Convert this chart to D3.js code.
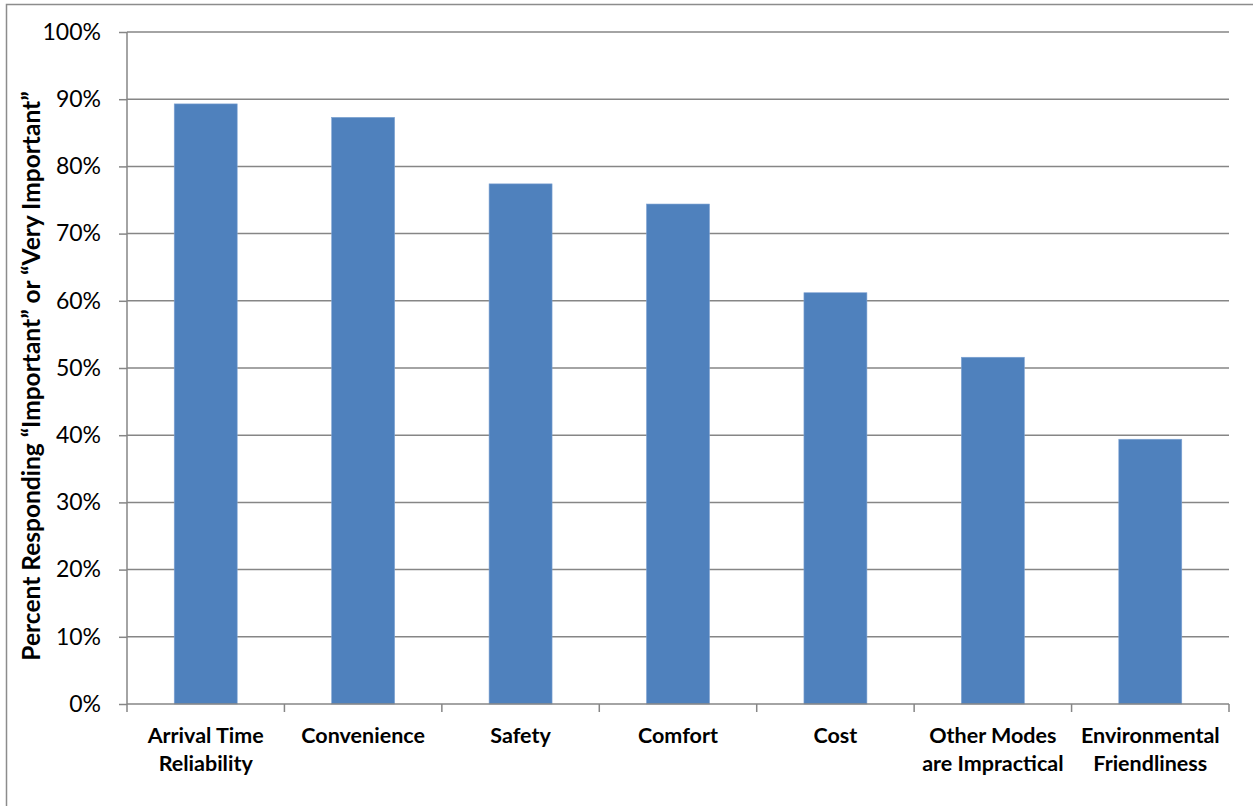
<!DOCTYPE html>
<html>
<head>
<meta charset="utf-8">
<script src="https://cdn.jsdelivr.net/npm/d3@7"></script>
<style>
  html, body { margin: 0; padding: 0; background: #fff; }
  svg { display: block; }
</style>
</head>
<body>
<svg id="chart" width="1253" height="806"></svg>
<script>
// Survey results: share answering "Important" or "Very Important"
const categories = [
  ["Arrival Time", "Reliability"],
  ["Convenience"],
  ["Safety"],
  ["Comfort"],
  ["Cost"],
  ["Other Modes", "are Impractical"],
  ["Environmental", "Friendliness"]
];
const values = [0.893, 0.873, 0.774, 0.744, 0.612, 0.516, 0.394];
const yTicks = [0, 0.1, 0.2, 0.3, 0.4, 0.5, 0.6, 0.7, 0.8, 0.9, 1.0];
const yTitle = "Percent Responding \u201CImportant\u201D or \u201CVery Important\u201D";

const svg = d3.select("#chart");
const W = 1253, H = 806;
const margin = { left: 127, right: 24, top: 32, bottom: 102 };
const plotW = W - margin.left - margin.right;
const plotH = H - margin.top - margin.bottom;
const font = "Lato, 'Open Sans', sans-serif";
const gridColor = "#868686";

// outer frame of the chart area
svg.append("rect")
  .attr("x", 6.5).attr("y", 4.5)
  .attr("width", W + 10).attr("height", H + 10)
  .attr("fill", "#fff").attr("stroke", "#8c8c8c").attr("stroke-width", 1.5);

const keys = categories.map(c => c.join(" "));
const x = d3.scaleBand().domain(keys).range([0, plotW]).paddingInner(0.6).paddingOuter(0.3);
const y = d3.scaleLinear().domain([0, 1]).range([plotH, 0]);

const g = svg.append("g").attr("transform", `translate(${margin.left},${margin.top})`);

// horizontal gridlines
g.append("g").selectAll("line").data(yTicks.filter(t => t > 0)).join("line")
  .attr("x1", 0).attr("x2", plotW)
  .attr("y1", d => y(d)).attr("y2", d => y(d))
  .attr("stroke", gridColor).attr("stroke-width", 1.5);

// bars
g.append("g").selectAll("rect").data(values).join("rect")
  .attr("x", (d, i) => x(keys[i]))
  .attr("y", d => y(d))
  .attr("width", x.bandwidth())
  .attr("height", d => y(0) - y(d))
  .attr("fill", "#4F81BD")
  .attr("stroke", "#7fa3d3").attr("stroke-width", 0.6);

// y axis
const yAxis = d3.axisLeft(y).tickValues(yTicks).tickFormat(d3.format(".0%")).tickSize(8).tickPadding(18);
const ya = g.append("g").call(yAxis);
ya.select(".domain").attr("stroke", gridColor).attr("stroke-width", 1.5).attr("d", `M0,${plotH}V0`);
ya.selectAll(".tick line").attr("stroke", gridColor).attr("stroke-width", 1.5);
ya.selectAll(".tick text").attr("font-family", font).attr("font-size", 23).attr("fill", "#000");

// x axis baseline with ticks at band boundaries
const step = x.step();
const bounds = d3.range(keys.length + 1).map(i => i * step);
g.append("line")
  .attr("x1", 0).attr("x2", plotW).attr("y1", plotH).attr("y2", plotH)
  .attr("stroke", gridColor).attr("stroke-width", 1.5);
g.append("g").selectAll("line").data(bounds).join("line")
  .attr("x1", d => d).attr("x2", d => d)
  .attr("y1", plotH).attr("y2", plotH + 8)
  .attr("stroke", gridColor).attr("stroke-width", 1.5);

// category labels
const lbl = g.append("g").selectAll("text").data(categories).join("text")
  .attr("x", (d, i) => x(keys[i]) + x.bandwidth() / 2)
  .attr("y", plotH + 39)
  .attr("text-anchor", "middle")
  .attr("font-family", font).attr("font-weight", "bold").attr("font-size", 21.5)
  .attr("fill", "#000");
lbl.selectAll("tspan").data(d => d).join("tspan")
  .attr("x", function () { return d3.select(this.parentNode).attr("x"); })
  .attr("dy", (d, i) => i === 0 ? 0 : 28)
  .text(d => d);

// y axis title
svg.append("text")
  .attr("transform", `translate(40,${margin.top + plotH / 2 + 8}) rotate(-90)`)
  .attr("text-anchor", "middle")
  .attr("font-family", font).attr("font-weight", "bold").attr("font-size", 24.5)
  .attr("fill", "#000")
  .text(yTitle);
</script>
</body>
</html>
